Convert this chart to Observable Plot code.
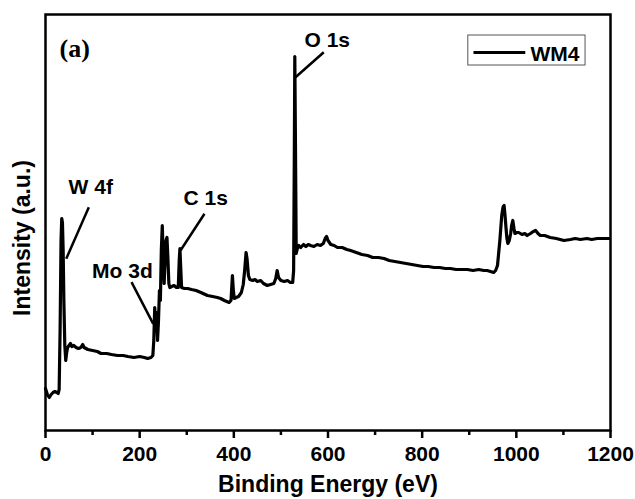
<!DOCTYPE html>
<html>
<head>
<meta charset="utf-8">
<script src="https://cdn.jsdelivr.net/npm/d3@7"></script>
<script src="https://cdn.jsdelivr.net/npm/@observablehq/plot@0.6"></script>
<style>
  html, body { margin: 0; padding: 0; background: #fff; }
  #chart svg { display: block; }
</style>
</head>
<body>
<div id="chart"></div>
<script>
// Binding energy (eV)
const energy = [
  0, 4, 8, 12, 16, 20, 24, 27, 29, 31, 33, 34.5, 36, 37.5, 39, 41, 43, 45, 47, 50,
  53, 56, 60, 65, 70, 75, 79, 82, 90, 100, 110, 118, 130, 140, 153, 165, 175, 188, 200, 210,
  217, 224, 228, 230, 232, 234, 236, 238, 240, 242, 244, 246, 248, 250, 252, 254, 256, 258, 260, 262,
  264, 268, 273, 278, 282, 284, 285.5, 287, 289, 295, 302, 310, 320, 330, 344, 355, 365, 372, 380, 390,
  394, 397, 399, 401, 405, 410, 416, 420, 423, 426, 428, 431, 434, 440, 445, 450, 457, 463, 471, 478,
  485, 489, 492, 495, 500, 507, 514, 520, 525, 527, 528.5, 529.5, 531, 532.5, 535, 538, 542, 548, 553, 558,
  563, 570, 577, 584, 590, 594, 597, 600, 606, 613, 620, 630, 640, 648, 660, 672, 684, 695, 707, 719,
  730, 742, 754, 766, 778, 790, 802, 813, 825, 837, 849, 860, 872, 884, 896, 908, 920, 931, 938, 945,
  952, 956, 960, 965, 969, 972, 974, 976, 978, 980, 982, 985, 988, 990, 992.5, 995, 997, 1001, 1005, 1012,
  1018, 1023, 1030, 1036, 1041, 1046, 1051, 1060, 1072, 1085, 1101, 1115, 1125, 1136, 1150, 1160, 1172, 1185, 1197
];
// Intensity (a.u.)
const intensity = [
  41, 35, 32, 35, 37, 38, 37, 36, 40, 99, 189, 211, 207, 179, 129, 84, 69, 77, 82, 84,
  86, 83, 84, 82, 81, 82, 85, 82, 80, 79, 78, 76, 76, 75, 74, 74, 73, 72, 73, 72,
  71, 72, 74, 89, 122, 104, 117, 89, 109, 139, 129, 179, 204, 174, 146, 169, 189, 192, 171, 146,
  142, 143, 144, 142, 142, 169, 181, 164, 142, 141, 141, 140, 139, 137, 134, 133, 132, 131, 129, 127,
  129, 154, 139, 131, 132, 133, 137, 145, 159, 177, 171, 154, 150, 149, 150, 148, 149, 146, 144, 145,
  146, 151, 159, 152, 149, 148, 149, 147, 147, 159, 279, 373, 279, 176, 181, 184, 182, 185, 183, 185,
  184, 183, 185, 184, 186, 191, 193, 189, 185, 184, 182, 182, 180, 179, 177, 175, 174, 172, 172, 171,
  169, 168, 167, 166, 165, 164, 163, 163, 162, 162, 161, 161, 160, 160, 160, 159, 160, 159, 159, 158,
  157, 159, 164, 189, 214, 223, 224, 214, 202, 191, 186, 189, 196, 204, 209, 201, 196, 197, 197, 195,
  196, 194, 196, 198, 199, 196, 194, 194, 192, 191, 189, 190, 191, 190, 191, 190, 191, 191, 191
];

const xTicks = [0, 200, 400, 600, 800, 1000, 1200];
const xTickLabels = ["0", "200", "400", "600", "800", "1000", "1200"];
const xMinorTicks = [100, 300, 500, 700, 900, 1100];

// Peak labels and their leader lines (data coordinates)
const peakLabels = ["W 4f", "C 1s", "Mo 3d", "O 1s"];
const peakLabelE = [49, 293, 99, 550];
const peakLabelI = [235.7, 225, 151.7, 382.3];
const leaderE1 = [92, 337.7, 182.7, 591];
const leaderI1 = [222.3, 215.7, 147.3, 377.3];
const leaderE2 = [44, 286.7, 228.8, 531];
const leaderI2 = [170.7, 179, 105.7, 352.3];

const seriesName = "WM4";
const panelLabel = "(a)";
const xTitle = "Binding Energy (eV)";
const yTitle = "Intensity (a.u.)";

const spectrum = energy.map((e, i) => ({e, v: intensity[i]}));
const peaks = peakLabels.map((t, i) => ({
  t, e: peakLabelE[i], v: peakLabelI[i],
  e1: leaderE1[i], v1: leaderI1[i], e2: leaderE2[i], v2: leaderI2[i]
}));

const font = "'Liberation Sans', Arial, Helvetica, sans-serif";

const chart = Plot.plot({
  width: 635,
  height: 499,
  marginLeft: 45,
  marginRight: 25,
  marginTop: 14,
  marginBottom: 69,
  style: {fontFamily: font, background: "#fff", color: "#000"},
  x: {domain: [0, 1200]},
  y: {domain: [-1, 415], axis: null},
  marks: [
    Plot.axisX({
      ticks: xTicks,
      tickFormat: (d) => xTickLabels[xTicks.indexOf(d)],
      tickSize: 8,
      tickPadding: 8,
      strokeWidth: 2.5,
      fontSize: 21,
      fontWeight: "bold",
      label: null
    }),
    Plot.axisX({ticks: xMinorTicks, tickSize: 5, strokeWidth: 2.5, text: null, label: null}),
    Plot.line(spectrum, {x: "e", y: "v", stroke: "#000", strokeWidth: 3.2, strokeLinejoin: "round"}),
    Plot.link(peaks, {x1: "e1", y1: "v1", x2: "e2", y2: "v2", stroke: "#000", strokeWidth: 2.5}),
    Plot.text(peaks, {x: "e", y: "v", text: "t", textAnchor: "start", lineAnchor: "bottom",
      fontSize: 21, fontWeight: "bold", fill: "#000"}),
    // panel label
    Plot.text([panelLabel], {x: () => 29.7, y: () => 372.5, text: (d) => d, textAnchor: "start",
      lineAnchor: "bottom", fontSize: 26, fontWeight: "bold",
      fontFamily: "'Liberation Serif', 'Times New Roman', serif", fill: "#000"}),
    // legend
    Plot.rect([seriesName], {x1: () => 898, x2: () => 1147, y1: () => 364, y2: () => 394,
      fill: "#fff", stroke: "#555", strokeWidth: 1}),
    Plot.link([seriesName], {x1: () => 909, x2: () => 1019, y1: () => 377, y2: () => 377,
      stroke: "#000", strokeWidth: 3}),
    Plot.text([seriesName], {x: () => 1030, y: () => 369, text: (d) => d, textAnchor: "start",
      lineAnchor: "bottom", fontSize: 21, fontWeight: "bold", fill: "#000"}),
    // axis titles
    Plot.text([xTitle], {frameAnchor: "bottom", dy: 61, text: (d) => d, textAnchor: "middle",
      lineAnchor: "bottom", fontSize: 23, fontWeight: "bold", fill: "#000"}),
    Plot.text([yTitle], {frameAnchor: "left", dx: -16, dy: 15.5, rotate: -90, text: (d) => d,
      textAnchor: "middle", lineAnchor: "bottom", fontSize: 23, fontWeight: "bold", fill: "#000"}),
    Plot.frame({stroke: "#000", strokeWidth: 2.5})
  ]
});

document.getElementById("chart").appendChild(chart);
</script>
</body>
</html>
